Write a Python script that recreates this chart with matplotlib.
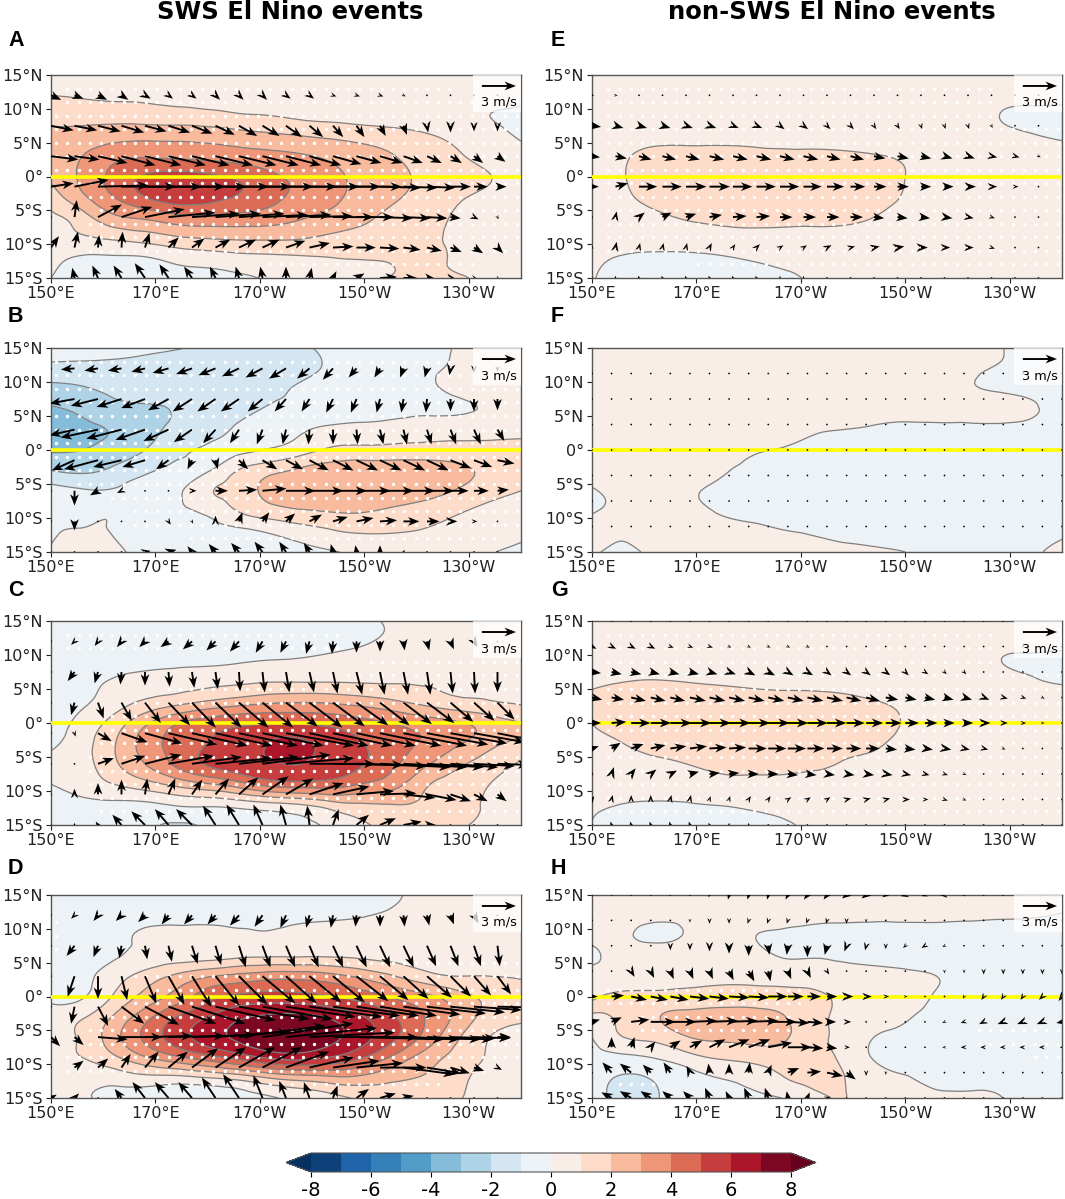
import numpy as np
import matplotlib
matplotlib.use('Agg')
import matplotlib.pyplot as plt
import matplotlib.tri as mtri
from matplotlib.patches import Rectangle

# ---------- shared axes values ----------
SST_LON = [150,156,162,168,174,180,186,192,198,204,210,216,222,228,234,240]
SST_LAT = [15,12,9,6,3,0,-3,-6,-9,-12,-15]
LON_COARSE = np.arange(150,236,4.5)
LAT_COARSE = [12,7.5,3,-1.5,-6,-10.5,-15]
LON_FINE = np.arange(150,240.1,3.75)
LAT_FINE = [15,11.25,7.5,3.75,0,-3.75,-7.5,-11.25,-15]
LAT_F = [11.25,7.5,3.75,0,-3.75,-7.5,-11.25]
LEVELS = list(range(-8,9))
XTICKS = [150,170,190,210,230]
XLABELS = ['150°E','170°E','170°W','150°W','130°W']
YTICKS = [15,10,5,0,-5,-10,-15]
YLABELS = ['15°N','10°N','5°N','0°','5°S','10°S','15°S']
CBAR_TICKS = [-8,-6,-4,-2,0,2,4,6,8]

# ---------- anomaly fields, one row per SST_LAT ----------
T_A = [[.4,.4,.4,.4,.3,.3,.3,.3,.3,.3,.3,.3,.3,.2,.2,.2],
[1,.9,.8,.8,.7,.6,.6,.5,.5,.4,.4,.3,.3,.2,.2,.1],
[1.6,1.6,1.6,1.5,1.4,1.3,1.1,1,.8,.7,.6,.5,.4,.2,0,-.1],
[2.3,2.4,2.6,2.7,2.7,2.6,2.4,2.2,2,1.8,1.6,1.4,1.1,.7,.3,-.1],
[2.5,3,3.7,3.9,3.8,3.7,3.5,3.3,3.1,2.8,2.4,2,1.6,1.1,.7,.4],
[2.2,3.2,4.3,5.1,5.4,5.2,4.8,4.2,3.7,3.2,2.7,2.2,1.8,1.35,1.02,.7],
[1.5,2.8,4,5,5.6,5.4,4.9,4.3,3.7,3.2,2.6,2.1,1.6,1.1,.85,.6],
[.8,1.6,2.8,3.2,3.7,3.8,3.7,3.5,3.1,2.7,2.2,1.7,1.3,.9,.7,.5],
[.7,.9,1.2,1.5,1.9,2.1,2.2,2.2,2.1,1.8,1.6,1.4,1.2,.8,.6,.4],
[.3,-.1,-.1,-.05,.3,.5,.7,.8,.9,1,1.05,1.1,1.2,.85,.6,.4],
[0,-.3,-.3,-.3,-.3,-.3,-.15,.1,.3,.5,.7,1.05,1.05,1.1,.7,.4]]
T_B = [[-.4,-.5,-.6,-.8,-.95,-1.15,-1.25,-1.25,-1.1,-.8,-.5,-.3,-.15,.05,.35,.4],
[-1.3,-1.3,-1.3,-1.35,-1.4,-1.4,-1.4,-1.4,-1.2,-.85,-.5,-.3,-.1,.1,.3,.4],
[-2.3,-2.1,-1.8,-1.7,-1.6,-1.5,-1.4,-1.2,-.9,-.7,-.4,-.25,-.1,.15,.3,.4],
[-3.1,-2.8,-2.3,-2.1,-1.9,-1.4,-1.2,-.9,-.7,-.5,-.4,-.25,-.15,-.1,.1,.3],
[-3.4,-3.2,-2.9,-2.3,-1.8,-1.3,-.9,-.5,-.1,.2,.3,.4,.5,.55,.6,.7],
[-3.1,-3,-2.6,-2,-1.3,-.8,-.3,.1,.6,1.2,1.3,1.35,1.4,1.4,1.35,1.3],
[-2,-2.2,-1.8,-1.2,-.7,-.1,1.05,1.7,2.2,2.5,2.55,2.55,2.5,2.2,1.8,1.4],
[-.6,-.9,-.9,-.5,-.2,.85,1.5,2.3,2.55,2.65,2.65,2.6,2.4,1.9,1.4,1],
[-.1,-.3,-.1,-.4,-.2,.2,1.05,1.6,1.9,2.05,2.05,1.8,1.5,1.1,.7,.4],
[-.1,.1,-.05,-.4,-.4,-.3,-.2,.1,.5,.9,1.1,1.05,.9,.6,.3,.1],
[.1,.6,.2,-.2,-.3,-.4,-.4,-.3,-.2,-.05,.15,.3,.4,.4,.05,-.1]]
T_C = [[-.4,-.4,-.4,-.4,-.4,-.4,-.4,-.3,-.2,-.2,-.1,.1,.2,.3,.3,.3],
[-.5,-.5,-.5,-.5,-.5,-.4,-.4,-.3,-.3,-.2,-.05,.15,.3,.3,.4,.4],
[-.5,-.4,-.4,-.3,-.2,-.15,-.05,.05,.1,.2,.3,.5,.6,.6,.6,.6],
[-.3,-.2,.1,.4,.5,.7,.85,1,1,1,.95,.95,.95,.9,.9,.9],
[-.2,-.1,.5,1.2,1.7,2.2,2.6,2.9,3,2.9,2.6,2.2,1.7,1.3,1.1,.9],
[-.4,.3,1.4,2.8,3.9,4.5,4.8,4.95,4.9,4.7,4.3,3.9,3.5,3.1,2.5,2],
[-.2,.6,1.9,3.4,4.4,5,5.4,6.05,6.15,5.6,5,4.4,3.8,3.1,2.3,1.7],
[.2,.6,1.8,3,4.2,5.1,5.6,5.95,6,5.6,5,4.1,3.1,2.2,1.5,.9],
[0,.4,1,1.6,2.3,2.9,3.6,4.4,4.6,4.5,3.9,3.3,2.1,1.5,1,.7],
[-.3,-.2,-.2,-.2,.1,.2,.4,.7,1,1.6,1.9,2,1.8,1.3,.9,.6],
[-.3,-.4,-.5,-.8,-1.1,-.9,-.6,-.3,-.1,.2,.9,1.2,1.3,1.1,.8,.5]]
T_D = [[-.4,-.4,-.4,-.4,-.4,-.4,-.4,-.4,-.3,-.3,-.2,-.05,.15,.25,.3,.35],
[-.5,-.5,-.5,-.5,-.4,-.4,-.4,-.4,-.3,-.2,-.05,.15,.3,.4,.4,.4],
[-.5,-.4,-.3,.2,.3,.3,.15,.1,.3,.4,.5,.5,.5,.5,.5,.5],
[-.4,-.3,-.1,.3,.5,.6,.8,.9,.9,.9,.8,.7,.65,.65,.65,.7],
[-.4,-.2,.5,1.4,2.2,2.9,3.3,3.6,3.6,3.3,2.7,2,1.3,1,1,.9],
[-.4,-.1,1.1,2.3,3.4,4.6,5.2,5.4,5.3,5,4.5,3.8,3.2,2.4,1.7,1.5],
[.7,.9,2.1,3.6,5,6,6.8,7.2,7.25,6.8,6,5,3.9,2.7,1.6,1.2],
[.5,1.2,2.6,4.2,5.5,6.5,7.2,7.7,7.7,7.2,6.3,5.1,3.6,2.1,1,.7],
[.7,1,1.8,2.9,3.8,4.6,5.4,6.2,6.4,5.9,5,3.7,2.5,1.6,.9,.6],
[.3,.4,.4,.7,.7,1,1.4,2.1,2.5,2.8,2.7,2.2,1.9,1.3,.6,.5],
[.2,.1,-.2,-.4,-.7,-.9,-.4,-.1,.3,.7,1.2,1.6,1.6,1.1,.5,.4]]
T_E = [[.3,.3,.3,.3,.3,.3,.3,.3,.3,.3,.3,.3,.3,.3,.3,.3],
[.4,.4,.4,.4,.4,.4,.4,.4,.4,.4,.3,.3,.3,.2,.2,.2],
[.5,.5,.5,.5,.5,.5,.5,.4,.4,.4,.4,.3,.3,0,-.15,-.2],
[.6,.7,.75,.75,.75,.7,.7,.65,.6,.55,.5,.4,.3,.2,.05,-.1],
[.6,.9,1.25,1.3,1.3,1.3,1.2,1.2,1.15,1.05,.9,.7,.5,.4,.3,.3],
[.5,.95,1.5,1.6,1.6,1.6,1.55,1.5,1.4,1.25,1,.7,.5,.4,.3,.3],
[.3,.8,1.3,1.5,1.6,1.6,1.55,1.5,1.45,1.25,.95,.7,.5,.4,.3,.3],
[.3,.5,.8,1.1,1.3,1.4,1.35,1.3,1.25,1,.7,.55,.4,.3,.3,.3],
[.3,.3,.3,.4,.5,.6,.6,.6,.6,.5,.4,.3,.3,.3,.3,.3],
[.15,-.05,-.1,-.1,-.05,.05,.15,.2,.2,.2,.2,.2,.2,.2,.2,.2],
[.05,-.3,-.3,-.3,-.3,-.3,-.15,.05,.1,.2,.2,.2,.2,.2,.2,.2]]
T_F = [[.3,.3,.3,.3,.3,.3,.3,.3,.3,.3,.3,.3,.1,.01,-.1,-.1],
[.3,.3,.3,.3,.3,.3,.3,.3,.3,.3,.3,.3,.1,-.03,-.1,-.1],
[.3,.3,.3,.3,.3,.3,.3,.3,.3,.3,.3,.2,.05,-.05,-.1,-.1],
[.2,.2,.2,.2,.2,.2,.2,.2,.2,.2,.2,.2,.2,.2,.05,-.05],
[.2,.2,.2,.2,.2,.2,.2,.06,0,-.05,-.1,-.1,-.1,-.1,-.1,-.1],
[.15,.15,.15,.15,.15,.05,-.02,-.1,-.1,-.1,-.1,-.1,-.1,-.1,-.1,-.1],
[.15,.15,.15,.15,.05,-.05,-.1,-.1,-.1,-.1,-.1,-.1,-.1,-.1,-.1,-.1],
[-.03,.1,.1,.05,-.05,-.1,-.1,-.1,-.1,-.1,-.1,-.1,-.1,-.1,-.1,-.1],
[-.03,.1,.1,.1,-.02,-.1,-.1,-.1,-.1,-.1,-.1,-.1,-.1,-.1,-.1,-.1],
[.2,.05,.15,.15,.15,.1,.02,-.03,-.1,-.1,-.1,-.1,-.1,-.1,-.1,-.05],
[.1,-.12,.12,.2,.2,.2,.2,.2,.15,.05,0,-.1,-.1,-.1,-.05,.1]]
T_G = [[.3,.3,.3,.3,.3,.3,.3,.3,.3,.3,.3,.3,.3,.3,.3,.3],
[.4,.45,.45,.45,.45,.45,.4,.4,.4,.35,.3,.3,.3,.2,.2,.2],
[.6,.6,.65,.65,.65,.6,.6,.5,.45,.4,.4,.35,.3,.02,-.1,-.2],
[.9,1,1.05,1,.95,.9,.85,.8,.75,.65,.55,.45,.35,.3,.1,-.05],
[1.1,1.3,1.4,1.4,1.35,1.3,1.3,1.3,1.2,1.05,.85,.65,.5,.4,.3,.25],
[1,1.4,1.6,1.7,1.7,1.7,1.7,1.6,1.4,1.25,.95,.7,.5,.4,.3,.25],
[.7,1,1.4,1.55,1.6,1.6,1.6,1.5,1.25,1.1,.8,.6,.45,.35,.3,.25],
[.45,.7,.8,1,1.2,1.3,1.3,1.2,.95,.8,.6,.5,.4,.3,.3,.25],
[.3,.4,.5,.5,.7,.7,.7,.6,.6,.5,.4,.3,.3,.3,.3,.25],
[.1,-.02,-.1,-.05,.02,.1,.2,.3,.3,.3,.3,.3,.3,.3,.3,.25],
[0,-.3,-.3,-.3,-.3,-.2,-.1,.1,.2,.3,.3,.3,.3,.3,.3,.25]]
T_H = [[.3,.3,.3,.3,.3,.3,.3,.3,.3,.3,.3,.3,.3,.2,.15,.1],
[.3,.25,.15,.15,.2,.25,.25,.2,.2,.15,.15,.15,.12,.08,.05,-.03],
[.15,.1,-.15,.05,.2,.05,-.1,-.2,-.3,-.3,-.3,-.3,-.3,-.3,-.3,-.3],
[-.1,.2,.35,.4,.4,.3,-.03,-.05,-.15,-.25,-.3,-.35,-.35,-.3,-.3,-.3],
[.3,.4,.5,.6,.7,.7,.6,.5,.4,.3,.15,0,-.2,-.3,-.3,-.3],
[.9,1.2,1.3,1.4,1.5,1.5,1.4,1.25,.8,.6,.3,-.05,-.2,-.3,-.3,-.3],
[.9,1.2,1.9,2.2,2.3,2.3,2.1,1.4,.8,.5,.1,-.2,-.3,-.4,-.4,-.5],
[0,1,1.3,1.95,2.2,2.3,2.2,1.4,.7,0,-.2,-.3,-.4,-.5,-.5,-.5],
[-.3,-.2,.05,.6,1.1,1.3,1.5,1.4,.8,-.05,-.2,-.3,-.4,-.5,-.4,-.3],
[-.6,-1.1,-.9,-.4,0,.3,.9,1.3,1.05,.3,.03,-.2,-.25,-.2,-.2,-.2],
[-.6,-1.3,-1.1,-.4,-.3,-.2,-.02,.5,1.05,.4,.3,.2,.2,.02,-.1,-.2]]

# ---------- wind anomalies, tenths of m/s, one row per latitude ----------
U_A = [[9,8,8,6,5,4,4,4,4,4,4,4,3,3,3,2,1,1,0,0],
[20,20,20,20,19,19,18,17,16,15,14,12,9,7,5,3,1,0,0,0],
[24,22,26,30,32,33,33,33,33,32,31,28,25,22,20,17,13,10,8,7],
[20,30,45,48,50,50,48,47,46,45,45,44,42,40,36,30,25,18,12,8],
[0,2,21,27,35,41,42,40,40,40,40,38,36,33,29,24,18,9,4,1],
[7,3,1,1,4,9,11,13,15,15,17,18,18,17,17,15,13,10,8,5],
[0,-2,-5,-7,-9,-8,-7,-5,-3,-2,0,2,3,7,15,12,8,5,3,2]]
V_A = [[-4,-3,-4,-4,-3,-3,-3,-4,-4,-4,-3,-3,-1,-1,-1,-1,0,0,0,0],
[-4,-4,-5,-6,-5,-6,-7,-8,-9,-9,-10,-10,-10,-10,-9,-8,-6,-6,-5,-5],
[-3,-3,-6,-8,-8,-8,-8,-8,-8,-8,-8,-8,-7,-6,-6,-6,-6,-6,-6,-5],
[3,6,1,0,0,0,0,0,0,0,0,0,0,0,-1,-1,-1,0,0,0],
[0,15,11,9,7,4,3,3,3,2,2,1,0,0,-1,-1,-1,-1,-2,-2],
[10,14,11,14,13,9,8,7,7,7,6,4,1,0,-1,-2,-3,-4,-5,-5],
[0,9,11,11,13,12,10,10,10,10,10,9,6,4,1,0,-1,-1,-1,-1]]
U_B = [[0,-12,-12,-12,-12,-14,-14,-15,-15,-15,-15,-11,-9,-7,-5,-3,-2,-1,0,0],
[-20,-22,-24,-22,-21,-18,-17,-16,-16,-13,-10,-7,-6,-5,-3,-2,-1,0,0,0],
[-15,-22,-33,-31,-26,-22,-16,-11,-8,-5,-3,-1,0,1,3,3,4,5,6,6],
[-15,-20,-30,-25,-20,-11,-4,2,8,13,15,17,18,19,19,19,19,18,16,15],
[0,0,-7,-4,0,0,4,11,16,21,26,30,30,30,30,28,24,16,13,10],
[0,0,0,0,0,2,1,0,3,6,8,11,13,15,15,14,11,6,3,1],
[0,0,0,0,5,7,-4,-6,-7,-7,-6,-5,-2,-1,0,1,0,0,0,0]]
V_B = [[0,-1,-2,-2,-3,-4,-5,-6,-7,-8,-9,-9,-10,-8,-8,-8,-8,-6,-4,-3],
[-4,-4,-6,-7,-8,-10,-11,-11,-11,-11,-11,-11,-12,-12,-12,-12,-12,-11,-11,-10],
[-6,-5,-7,-8,-9,-10,-11,-12,-12,-13,-13,-13,-13,-13,-13,-13,-13,-13,-13,-10],
[-6,-9,-8,-6,-6,-8,-8,-8,-8,-8,-8,-9,-9,-9,-9,-9,-9,-7,-6,-3],
[0,-13,-4,-2,0,0,0,0,1,2,0,0,0,0,0,0,0,0,0,1],
[0,-8,-1,0,0,-3,-2,5,8,8,7,6,4,3,1,0,0,0,0,0],
[0,0,0,0,1,2,5,7,8,9,9,8,7,6,6,2,0,0,0,0]]
U_C = [[0,-3,-3,-4,-5,-7,-8,-8,-8,-6,-5,-3,-1,0,0,1,2,3,3,0],
[0,-6,-3,-1,0,1,2,2,1,2,3,4,4,5,4,4,3,2,1,0],
[0,-3,5,9,14,19,21,23,26,27,28,29,28,28,26,25,24,20,18,15],
[0,1,12,23,33,43,49,50,52,54,60,52,52,52,54,56,54,50,45,40],
[0,0,14,21,32,40,44,50,53,60,60,58,62,62,62,56,50,42,36,28],
[0,0,0,0,2,6,9,12,17,23,24,30,32,33,32,28,26,18,12,8],
[0,0,-2,-8,-12,-12,-14,-11,-11,-8,-5,-2,5,11,14,16,8,0,0,0]]
V_C = [[0,-3,-4,-5,-5,-5,-7,-8,-9,-10,-10,-11,-11,-10,-9,-8,-8,-7,-5,0],
[0,-8,-10,-11,-12,-13,-14,-15,-17,-18,-18,-18,-19,-20,-20,-20,-20,-19,-19,-18],
[0,-11,-14,-16,-18,-20,-22,-22,-22,-22,-21,-22,-21,-20,-20,-19,-18,-17,-16,-15],
[0,-3,-7,-8,-9,-10,-11,-11,-11,-11,-11,-11,-11,-11,-11,-11,-10,-9,-8,-8],
[0,0,5,7,8,7,6,5,6,8,5,0,-1,-2,-3,-3,-3,-3,-2,-1],
[0,5,10,13,14,14,13,14,15,16,14,10,7,3,1,-3,-5,-6,-6,-6],
[0,2,3,9,12,14,14,17,18,18,18,17,14,9,6,3,0,0,0,0]]
U_D = [[0,-3,-4,-5,-6,-6,-7,-7,-8,-7,-5,-3,-2,-1,0,1,2,3,4,0],
[0,-7,-4,-2,2,3,5,5,6,7,8,8,9,9,9,9,8,7,6,2],
[0,-6,0,5,10,14,17,21,25,29,27,28,28,28,25,22,22,18,15,12],
[0,-3,9,20,30,42,47,53,62,62,61,64,59,55,50,50,52,48,42,40],
[8,8,26,36,42,50,56,65,76,80,80,75,75,77,70,68,58,40,32,12],
[0,8,9,8,12,17,23,27,32,35,38,39,41,41,41,45,30,17,9,4],
[5,4,-1,-6,-11,-12,-12,-12,-14,-8,-6,-5,4,11,14,9,0,0,0,0]]
V_D = [[0,-3,-5,-5,-6,-8,-8,-8,-9,-10,-11,-11,-11,-10,-10,-10,-9,-8,-7,0],
[0,-9,-10,-11,-12,-14,-16,-17,-19,-19,-19,-19,-19,-19,-19,-19,-18,-18,-18,-18],
[0,-18,-20,-21,-24,-25,-27,-26,-25,-24,-24,-23,-23,-22,-21,-20,-19,-18,-17,-16],
[0,-15,-17,-15,-16,-15,-15,-12,-11,-11,-9,-9,-8,-8,-8,-7,-6,-5,-3,-1],
[-8,-7,-2,0,1,1,2,5,10,12,8,4,0,-2,-2,-2,-2,-1,-1,0],
[0,6,8,12,14,14,17,18,18,18,14,9,6,4,0,-6,-5,-5,-3,-2],
[3,4,1,8,14,14,14,18,21,20,15,14,11,8,4,2,0,0,0,0]]
U_E = [[2,2,1,1,1,1,1,1,1,1,1,1,0,0,0,0,0,0,0,0],
[8,7,7,7,6,6,5,5,4,4,3,3,2,2,1,1,1,1,0,0],
[7,10,11,12,12,13,13,13,13,13,12,12,10,10,9,7,6,5,4,2],
[6,11,16,17,18,18,17,17,17,16,15,13,11,10,9,8,7,5,3,1],
[0,1,5,8,9,11,12,12,11,11,11,11,9,9,8,7,5,3,1,0],
[0,1,1,1,1,2,2,3,3,3,4,4,5,6,6,5,5,3,1,1],
[0,0,-1,-1,-1,-1,-1,-1,0,0,0,0,0,0,0,0,0,0,0,0]]
V_E = [[0,0,0,0,0,0,0,0,0,0,0,0,0,0,0,0,0,0,0,0],
[-1,-2,-2,-2,-2,-2,-2,-2,-3,-3,-3,-3,-3,-3,-3,-3,-3,-2,0,0],
[-1,-2,-3,-3,-3,-3,-3,-3,-3,-3,-3,-3,-2,-2,-2,-2,-2,-1,-1,-1],
[0,3,0,0,0,0,0,0,0,0,0,0,0,0,0,0,0,0,0,0],
[0,5,4,4,3,2,1,1,0,0,0,0,-1,-1,-1,-1,-1,-1,0,0],
[2,5,4,4,4,4,3,3,2,2,2,1,1,1,0,0,0,-1,-1,0],
[0,2,2,2,2,2,2,2,2,2,0,0,0,0,0,0,0,0,0,0]]
U_F = [[0,0,0,0,0,0,0,0,0,0,0,0,0,0,0,0,0,0,0,0,0,0,0,0,0]]*7
V_F = [[0,0,0,0,0,0,0,0,0,0,0,0,0,0,0,0,0,0,0,0,0,0,0,0,0]]*7
U_G = [[0,0,0,0,0,0,0,0,0,0,0,0,0,0,0,0,0,0,0,0,0,0,0,0,0],
[4,4,4,4,3,3,3,2,2,2,2,2,1,1,1,1,1,1,0,0,0,0,0,0,0],
[8,9,9,8,8,8,7,6,6,6,5,5,4,4,4,4,3,3,2,2,1,1,0,0,0],
[9,11,13,13,13,14,14,14,14,14,14,14,14,13,12,11,10,9,8,7,5,4,3,2,1],
[8,13,17,18,19,19,19,19,19,19,18,18,17,16,15,14,12,11,9,8,6,4,3,2,1],
[6,8,11,13,14,15,15,15,16,16,16,15,14,13,12,10,9,7,6,5,4,2,1,1,0],
[0,2,4,5,6,8,9,9,9,9,9,8,7,7,7,6,5,4,3,2,1,1,0,0,0],
[2,1,0,0,1,1,1,1,2,2,3,3,3,4,4,4,4,3,3,2,1,1,1,1,0],
[0,-1,-1,-1,-1,-1,-1,0,0,0,0,0,0,0,0,0,0,0,0,0,0,0,0,0,0]]
V_G = [[0,0,0,0,0,0,0,0,0,0,0,0,0,0,0,0,0,0,0,0,0,0,0,0,0],
[-2,-2,-2,-2,-1,-1,-1,-1,-1,-1,-1,-1,-1,0,0,0,0,0,0,0,0,0,0,0,0],
[-1,-2,-2,-2,-2,-2,-2,-2,-3,-3,-3,-3,-3,-3,-3,-3,-3,-2,-2,-2,-1,-1,-1,0,0],
[-2,-2,-3,-3,-3,-3,-3,-3,-3,-3,-3,-3,-3,-3,-3,-2,-2,-2,-2,-2,-2,-1,-1,-1,-1],
[0,1,0,0,0,0,0,0,0,0,0,0,0,0,0,0,0,0,0,0,0,0,0,0,0],
[2,5,4,3,2,2,1,1,0,0,0,0,0,0,0,-1,-1,-1,-1,-1,-1,-1,0,0,0],
[2,6,5,4,3,2,1,1,0,0,-1,-1,-1,-1,-1,-1,-1,-1,-1,-1,0,0,0,0,0],
[3,4,4,4,4,4,3,3,3,3,2,2,2,1,1,1,0,0,-1,-1,-1,-1,-1,0,0],
[0,3,3,3,3,3,2,2,2,1,0,0,0,0,0,0,0,0,0,0,0,0,0,0,0]]
U_H = [[0,0,0,0,0,0,-1,-1,-1,-1,-2,-3,-3,-4,-4,-3,-4,-3,-4,-2,-1,0,0,0,0],
[0,0,1,0,0,0,0,0,-1,-1,-1,-1,-1,0,0,0,0,0,0,0,0,0,0,0,0],
[0,0,0,0,0,0,0,0,0,1,-1,0,-2,-2,-1,0,-2,-3,-2,-1,-1,-1,-1,0,0],
[0,0,3,3,3,3,3,4,5,2,3,3,2,1,0,-1,0,0,0,0,0,0,0,0,0],
[5,11,14,15,16,17,17,18,18,17,14,12,9,6,5,3,2,1,0,-1,-2,-2,-2,-3,-3],
[7,9,16,22,23,24,25,25,26,25,19,14,8,4,1,0,0,-1,-2,-3,-4,-5,-5,-5,-5],
[0,0,3,4,9,11,14,18,19,21,21,14,9,3,1,0,0,-1,-2,-3,-3,-3,-3,-3,-2],
[0,-8,-10,-7,-6,-3,-1,0,1,3,10,12,14,8,0,0,0,0,0,0,0,0,0,0,0],
[0,-9,-10,-9,-7,-6,-4,-3,-4,-3,-1,2,3,0,0,0,0,0,0,0,0,0,0,0,0]]
V_H = [[0,0,0,0,0,-1,-2,-4,-4,-4,-4,-4,-4,-3,-3,-2,-1,-1,0,0,0,0,0,0,0],
[0,0,-1,-1,-1,-2,-3,-3,-3,-3,-3,-3,-3,-3,-2,-1,-1,-1,0,0,0,0,0,0,0],
[0,0,0,-1,-4,-4,-5,-7,-9,-8,-8,-10,-8,-5,-4,-3,-2,-2,-1,-1,-1,0,0,0,0],
[0,0,-5,-6,-7,-7,-7,-8,-9,-9,-7,-6,-3,-1,0,0,0,-1,-2,-2,-3,-3,-3,-3,-3],
[0,1,-3,-3,-3,-2,-2,-1,-1,0,0,0,0,0,0,0,0,0,-1,-2,-3,-3,-3,-3,-4],
[2,4,2,0,0,1,1,1,1,0,-1,-1,0,0,0,0,0,0,-1,-1,-2,-2,-2,-2,-1],
[0,9,9,5,6,6,7,7,7,4,0,-1,-1,0,0,0,0,0,0,0,0,0,0,0,0],
[0,9,8,7,9,6,8,8,9,7,4,1,-3,-6,-3,-2,0,0,0,0,0,0,0,0,0],
[0,5,6,6,6,6,9,6,9,9,6,5,1,0,0,0,0,0,0,0,0,0,0,0,0]]

# ---------- significance dots: (latitude, first longitude, last longitude) ----------
S_A = [(13,152,228),(11,152,240),(9,150,240),(7,150,240),(5,150,240),(3,150,240),(1,150,240),(-1,152,240),
       (-3,156,240),(-5,158,240),(-7,156,240),(-9,156,240),(-11,156,240),(-13,190,232)]
S_B = [(13,150,228),(11,150,236),(9,150,240),(7,150,240),(5,150,240),(3,150,240),(1,150,240),(-1,150,240),
       (-3,150,240),(-5,154,240),(-7,160,240),(-9,164,240),(-11,166,240),(-13,176,236)]
S_C = [(13,152,206),(11,152,206),(9,210,240),(7,205,240),(5,172,240),(3,164,240),(1,160,240),(-1,160,240),
       (-3,158,240),(-5,156,240),(-7,156,240),(-9,156,240),(-11,158,240),(-13,158,240)]
S_D = [(11,150,153),(9,150,153),(7,150,153),(5,195,240),(3,165,240),(1,170,240),(-1,164,240),(-3,160,240),
       (-5,156,240),(-7,156,240),(-9,152,240),(-11,152,234),(-13,170,226)]
S_E = [(13,152,228),(11,152,228),(9,152,228),(7,152,240),(5,152,240),(3,152,240),(1,152,240),(-1,152,240),
       (-3,152,240),(-5,152,240),(-7,152,240),(-9,152,240),(-11,152,240),(-13,170,240)]
S_F = []
S_G = [(13,152,228),(11,152,228),(9,152,228),(7,152,240),(5,152,240),(3,152,240),(1,152,240),(-1,152,240),
       (-3,152,240),(-5,152,240),(-7,152,240),(-9,152,240),(-11,152,240),(-13,152,240)]
S_H = [(1,152,190),(-1,153,190),(-3,158,188),(-5,158,188),(-7,170,184),(-13,155,162),
       (-5,222,240),(-7,222,240),(-9,234,240)]

PANELS = [
 ('A', T_A, U_A, V_A, S_A, LON_COARSE, LAT_COARSE),
 ('B', T_B, U_B, V_B, S_B, LON_COARSE, LAT_COARSE),
 ('C', T_C, U_C, V_C, S_C, LON_COARSE, LAT_COARSE),
 ('D', T_D, U_D, V_D, S_D, LON_COARSE, LAT_COARSE),
 ('E', T_E, U_E, V_E, S_E, LON_COARSE, LAT_COARSE),
 ('F', T_F, U_F, V_F, S_F, LON_FINE, LAT_F),
 ('G', T_G, U_G, V_G, S_G, LON_FINE, LAT_FINE),
 ('H', T_H, U_H, V_H, S_H, LON_FINE, LAT_FINE),
]

W, H = 1065, 1199
fig = plt.figure(figsize=(W/100, H/100), dpi=100)
plt.rcParams['font.family'] = 'DejaVu Sans'

def axbox(x0, x1, y0, y1):
    return [x0/W, 1-y1/H, (x1-x0)/W, (y1-y0)/H]

X_SPANS = [(51,521), (592,1062)]
Y_SPANS = [(75,278), (348,552), (621,825), (895,1098)]
LETTER_Y = [41, 317, 591, 868]

gx, gy = np.meshgrid(SST_LON, SST_LAT)
tri = mtri.Triangulation(gx.ravel(), gy.ravel())
refiner = mtri.UniformTriRefiner(tri)
LON_DOTS = np.arange(151, 240, 2.15)

cf = None
for i, (name, T, U, V, S, wlon, wlat) in enumerate(PANELS):
    col, row = i // 4, i % 4
    x0, x1 = X_SPANS[col]
    y0, y1 = Y_SPANS[row]
    ax = fig.add_axes(axbox(x0, x1, y0, y1))
    tref, zref = refiner.refine_field(np.array(T, float).ravel(), subdiv=3)
    cf = ax.tricontourf(tref, zref, levels=LEVELS, cmap='RdBu_r', extend='both', zorder=1)
    ax.tricontour(tref, zref, levels=LEVELS, colors='#808080', linewidths=0.9,
                  linestyles='solid', zorder=2)
    dx, dy = [], []
    for lat, a, b in S:
        for lo in LON_DOTS:
            if a <= lo <= b:
                dx.append(lo); dy.append(lat)
    if dx:
        ax.scatter(dx, dy, s=6, c='white', linewidths=0, zorder=2.5)
    ax.axhline(0, color='#ffff00', lw=2.6, zorder=3)
    qx, qy = np.meshgrid(wlon, wlat)
    Q = ax.quiver(qx, qy, np.array(U, float)/10, np.array(V, float)/10,
                  angles='uv', units='inches', scale_units='inches', scale=8.8,
                  width=0.019, headwidth=4.6, headlength=6, headaxislength=4.6,
                  minshaft=0.6, minlength=1.0, color='black', zorder=4)
    ax.add_patch(Rectangle((0.898, 0.82), 0.102, 0.18, transform=ax.transAxes,
                           facecolor='white', edgecolor='none', alpha=0.75, zorder=4.5))
    ax.quiverkey(Q, 0.953, 0.946, 3, '3 m/s', labelpos='S', coordinates='axes',
                 labelsep=0.1, fontproperties={'size': 9.3}, zorder=6)
    ax.set_xlim(150, 240)
    ax.set_ylim(-15, 15)
    ax.set_xticks(XTICKS, XLABELS)
    ax.set_yticks(YTICKS, YLABELS)
    ax.tick_params(labelsize=11.5, length=3.5, width=0.8, pad=2.5, colors='#222222')
    for sp in ax.spines.values():
        sp.set_color('#555555'); sp.set_linewidth(1.0)
    fig.text((8 if col == 0 else 551)/W, 1-LETTER_Y[row]/H, name, fontsize=15.5,
             fontweight='bold', family='Liberation Sans', ha='left', va='center')

fig.text(290.5/W, 1-12/H, 'SWS El Nino events', fontsize=17.5, fontweight='bold', ha='center', va='center')
fig.text(831.5/W, 1-12/H, 'non-SWS El Nino events', fontsize=17.5, fontweight='bold', ha='center', va='center')

cax = fig.add_axes(axbox(286, 816, 1153, 1172))
cb = fig.colorbar(cf, cax=cax, orientation='horizontal', ticks=CBAR_TICKS, extendfrac=0.052)
cb.ax.tick_params(labelsize=14, length=3.5, width=0.8, pad=3)
cb.ax.set_xticklabels([str(t) for t in CBAR_TICKS])
cb.outline.set_edgecolor('#555555')

fig.savefig('out.png', dpi=100)
